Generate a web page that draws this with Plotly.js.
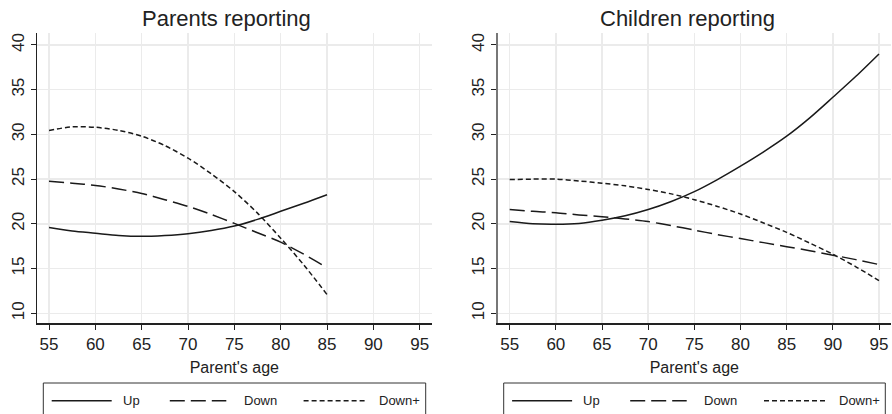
<!DOCTYPE html>
<html>
<head>
<meta charset="utf-8">
<script src="https://cdn.plot.ly/plotly-3.0.1.min.js"></script>
<style>html,body{margin:0;padding:0;background:#fff;}#chart{width:892px;height:414px;}</style>
</head>
<body>
<div id="chart"></div>
<script>
// ---- Data ----
const agesParents = [55, 57.5, 60, 62.5, 65, 67.5, 70, 72.5, 75, 77.5, 80, 82.5, 85];
const parentsUp    = [19.6, 19.2, 18.95, 18.7, 18.6, 18.7, 18.9, 19.25, 19.75, 20.5, 21.4, 22.3, 23.25];
const parentsDown  = [24.75, 24.55, 24.3, 23.9, 23.4, 22.7, 21.95, 21.05, 20.05, 19.0, 17.95, 16.6, 15.1];
const parentsDownP = [30.45, 30.85, 30.8, 30.45, 29.8, 28.75, 27.35, 25.6, 23.6, 21.2, 18.4, 15.4, 12.1];

const agesChildren = [55, 57.5, 60, 62.5, 65, 67.5, 70, 72.5, 75, 77.5, 80, 82.5, 85, 87.5, 90, 92.5, 95];
const childrenUp    = [20.25, 20.0, 19.95, 20.05, 20.4, 20.9, 21.6, 22.5, 23.6, 24.95, 26.45, 28.05, 29.8, 31.85, 34.15, 36.5, 39.0];
const childrenDown  = [21.6, 21.4, 21.25, 21.0, 20.8, 20.55, 20.25, 19.8, 19.3, 18.8, 18.35, 17.9, 17.45, 17.0, 16.5, 16.0, 15.45];
const childrenDownP = [24.95, 25.0, 25.0, 24.8, 24.55, 24.25, 23.85, 23.35, 22.7, 21.95, 21.1, 20.1, 19.05, 17.85, 16.6, 15.2, 13.65];

const xTicks = [55, 60, 65, 70, 75, 80, 85, 90, 95];
const yTicks = [10, 15, 20, 25, 30, 35, 40];
const panelTitles = ["Parents reporting", "Children reporting"];
const xTitle = "Parent's age";
const seriesNames = ["Up", "Down", "Down+"];

// ---- Styles ----
const W = 892, H = 414;
const FONT = "Arial, 'Liberation Sans', Helvetica, sans-serif";
const INK = "#1a1a1a";
const dashes = ["solid", "15px,6px", "5px,3px"];
const px = x => x / W;
const py = y => 1 - y / H;

function tr(x, y, name, dash, xa, ya) {
  return {x: x, y: y, name: name, type: "scatter", mode: "lines", xaxis: xa, yaxis: ya,
    line: {color: INK, width: 1.5, dash: dash, shape: "spline", smoothing: 0.8},
    showlegend: false, hoverinfo: "x+y+name"};
}

const data = [
  tr(agesParents, parentsUp, seriesNames[0], dashes[0], "x", "y"),
  tr(agesParents, parentsDown, seriesNames[1], dashes[1], "x", "y"),
  tr(agesParents, parentsDownP, seriesNames[2], dashes[2], "x", "y"),
  tr(agesChildren, childrenUp, seriesNames[0], dashes[0], "x2", "y2"),
  tr(agesChildren, childrenDown, seriesNames[1], dashes[1], "x2", "y2"),
  tr(agesChildren, childrenDownP, seriesNames[2], dashes[2], "x2", "y2")
];

function xaxisDef(domain, anchor) {
  return {domain: domain, anchor: anchor, range: [53.7, 96.3], tickvals: xTicks,
    showgrid: true, gridcolor: "#ebebeb", gridwidth: 1.5, zeroline: false,
    showline: true, linecolor: "#222", linewidth: 1.5,
    ticks: "outside", ticklen: 5, tickcolor: "#222", tickwidth: 1,
    tickfont: {family: FONT, size: 17, color: "#222"},
    title: {text: xTitle, font: {family: FONT, size: 16, color: "#222"}, standoff: 8},
    automargin: false, fixedrange: true};
}
function yaxisDef(anchor, lineColor, lineWidth) {
  return {domain: [py(323.3), py(33)], anchor: anchor, range: [8.88, 41.34], tickvals: yTicks,
    showgrid: true, gridcolor: "#ebebeb", gridwidth: 1.5, zeroline: false,
    showline: true, linecolor: lineColor, linewidth: lineWidth,
    ticks: "outside", ticklen: 5, tickcolor: "#222", tickwidth: 1, tickangle: -90,
    tickfont: {family: FONT, size: 17, color: "#222"},
    automargin: false, fixedrange: true};
}

const shapes = [];
const annotations = [];

// panel titles
annotations.push({text: panelTitles[0], x: px(226.5), y: py(19), xref: "paper", yref: "paper",
  xanchor: "center", yanchor: "middle", showarrow: false, font: {family: FONT, size: 22, color: "#222"}});
annotations.push({text: panelTitles[1], x: px(687.5), y: py(19), xref: "paper", yref: "paper",
  xanchor: "center", yanchor: "middle", showarrow: false, font: {family: FONT, size: 22, color: "#222"}});

// legends (drawn per panel)
function legend(left, width) {
  shapes.push({type: "rect", xref: "paper", yref: "paper", x0: px(left), x1: px(left + width),
    y0: py(440), y1: py(383), line: {color: "#333", width: 1}, fillcolor: "rgba(0,0,0,0)"});
  const sampleX = [[8.4, 68.4], [126.5, 183], [260.3, 322]];
  const textX = [77.5, 198.5, 333.5];
  const ly = 400.7;
  for (let i = 0; i < 3; i++) {
    shapes.push({type: "line", xref: "paper", yref: "paper",
      x0: px(left + sampleX[i][0]), x1: px(left + sampleX[i][1]), y0: py(ly), y1: py(ly),
      line: {color: INK, width: 1.5, dash: dashes[i]}});
    annotations.push({text: seriesNames[i], xref: "paper", yref: "paper",
      x: px(left + textX[i]), y: py(ly), xanchor: "left", yanchor: "middle", showarrow: false,
      font: {family: FONT, size: 13, color: "#222"}});
  }
}
legend(43.3, 382.4);
legend(503.7, 381.6);

const layout = {
  width: W, height: H,
  margin: {l: 0, r: 0, t: 0, b: 0, pad: 0},
  paper_bgcolor: "#ffffff", plot_bgcolor: "#ffffff",
  font: {family: FONT, color: "#222"},
  showlegend: false,
  xaxis: xaxisDef([px(37), px(431.7)], "y"),
  yaxis: yaxisDef("x", "#222", 1.5),
  xaxis2: xaxisDef([px(497.7), px(891)], "y2"),
  yaxis2: yaxisDef("x2", "#777", 2),
  shapes: shapes,
  annotations: annotations
};

Plotly.newPlot("chart", data, layout, {displayModeBar: false, staticPlot: true});
</script>
</body>
</html>
